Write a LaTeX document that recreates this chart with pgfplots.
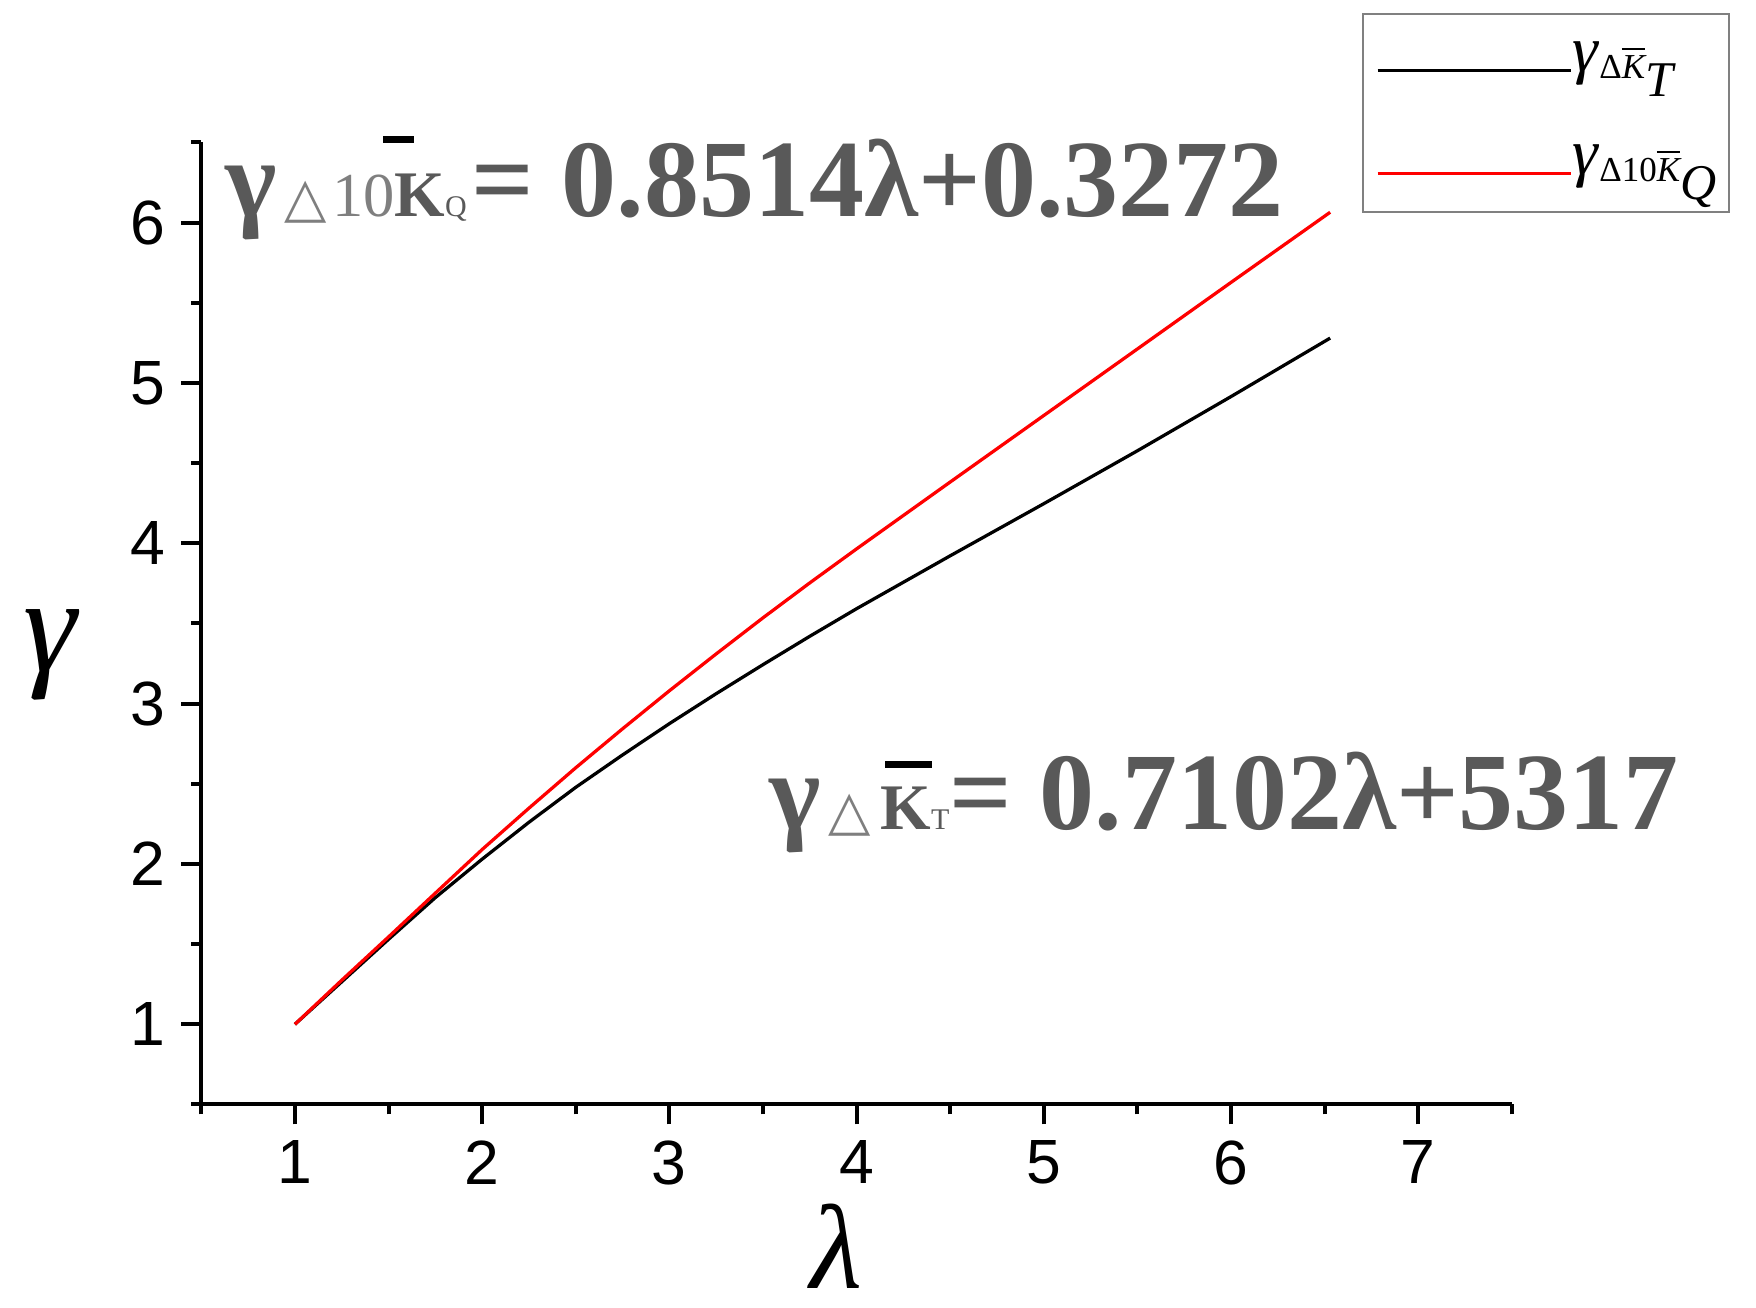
\documentclass[border=0pt]{standalone}
\usepackage{pgfplots}
\pgfplotsset{compat=1.18}
\usepackage{fontspec}
\setmainfont{Liberation Serif}
\newfontfamily\arialf{Liberation Sans}
\newfontfamily\dejavu{DejaVu Sans}
\definecolor{eqgray}{HTML}{595959}
\definecolor{subgray}{HTML}{7F7F7F}

% lambda vs gamma
\pgfplotstableread{
lam   gam
1.00  1.000
1.25  1.265
1.50  1.530
1.75  1.790
2.00  2.030
2.25  2.260
2.50  2.478
2.75  2.680
3.00  2.875
3.25  3.062
3.50  3.243
3.75  3.420
4.00  3.592
4.50  3.922
5.00  4.247
5.50  4.577
6.00  4.915
6.53  5.280
}\kT
\pgfplotstableread{
lam   gam
1.00  1.000
1.25  1.275
1.50  1.545
1.75  1.818
2.00  2.090
2.25  2.348
2.50  2.600
2.75  2.843
3.00  3.080
3.25  3.310
3.50  3.535
3.75  3.753
4.00  3.965
4.50  4.382
5.00  4.797
5.50  5.212
6.00  5.627
6.53  6.065
}\kQ

\newcommand{\legT}{\textit{γ}\raisebox{-1.5pt}{\fontsize{7}{8}\selectfont Δ$\overline{\mbox{\itshape K}}$}\raisebox{-5pt}{\fontsize{10}{11}\selectfont\itshape T}}
\newcommand{\legQ}{\textit{γ}\raisebox{-1.5pt}{\fontsize{7}{8}\selectfont Δ10$\overline{\mbox{\itshape K}}$}\raisebox{-5pt}{\fontsize{10}{11}\selectfont\itshape Q}}

\begin{document}
\begin{tikzpicture}
\useasboundingbox (-40.26pt,-40.7pt) rectangle (310.94pt,220.9pt);
\begin{axis}[
  at={(0pt,0pt)}, anchor=south west,
  scale only axis, width=262.1pt, height=192.4pt,
  xmin=0.5, xmax=7.5, ymin=0.5, ymax=6.5,
  axis x line*=bottom, axis y line*=left,
  axis line style={line width=0.8pt},
  xtick={1,...,7}, ytick={1,...,6},
  minor xtick={0.5,1.5,...,7.5}, minor ytick={0.5,1.5,...,6.5},
  tick align=outside, major tick length=4pt, minor tick length=2pt,
  every tick/.style={black, line width=0.8pt},
  ticklabel style={font=\arialf\fontsize{12.5}{14}\selectfont, inner sep=3pt},
  /pgf/number format/assume math mode=true,
  xlabel={\itshape λ},
  xlabel style={at={(axis description cs:0.485,-0.147)}, anchor=center, inner sep=0pt, font=\fontsize{24}{26}\selectfont},
  ylabel={\itshape γ},
  ylabel style={at={(axis description cs:-0.1156,0.467)}, anchor=center, rotate=-90, inner sep=0pt, font=\fontsize{27}{30}\selectfont},
  legend cell align=left,
  legend image code/.code={\draw[#1, line width=0.65pt] (0pt,-1.8pt) -- (38.6pt,-1.8pt);},
  legend style={at={(0.8855,1.1351)}, anchor=north west, draw=gray, line width=0.5pt,
    font=\fontsize{13}{14}\selectfont, row sep=6.6pt, inner xsep=2.6pt, inner ysep=2.5pt,
    nodes={inner sep=0pt, text height=9pt, text depth=5pt}},
]
\addplot[black, line width=0.65pt] table[x=lam, y=gam] {\kT};
\addlegendentry{\legT}
\addplot[red, line width=0.65pt] table[x=lam, y=gam] {\kQ};
\addlegendentry{\legQ}
\end{axis}

% fitted equations written on the plot
\node[anchor=base west, inner sep=0pt, text=eqgray, font=\bfseries\fontsize{22}{24}\selectfont] at (4.7pt,177.5pt)
  {γ\hspace{1.5pt}{\color{subgray}\dejavu\mdseries\fontsize{11}{12}\selectfont △}\hspace{1pt}{\color{subgray}\mdseries\fontsize{12.5}{12}\selectfont 10}{\fontsize{13}{12}\selectfont K}{\mdseries\fontsize{6}{6}\selectfont Q}\hspace{1pt}= 0.8514λ+0.3272};
\fill[black] (36.3pt,192.3pt) rectangle (42.6pt,193.6pt);

\node[anchor=base west, inner sep=0pt, text=eqgray, font=\bfseries\fontsize{22}{24}\selectfont] at (113.4pt,55pt)
  {γ\hspace{1.5pt}{\color{subgray}\dejavu\mdseries\fontsize{11}{12}\selectfont △}\hspace{2pt}{\fontsize{13}{12}\selectfont K}{\mdseries\fontsize{6}{6}\selectfont T}\hspace{0pt}= 0.7102λ+5317};
\fill[black] (136.7pt,67.3pt) rectangle (146.1pt,68.6pt);
\end{tikzpicture}
\end{document}
